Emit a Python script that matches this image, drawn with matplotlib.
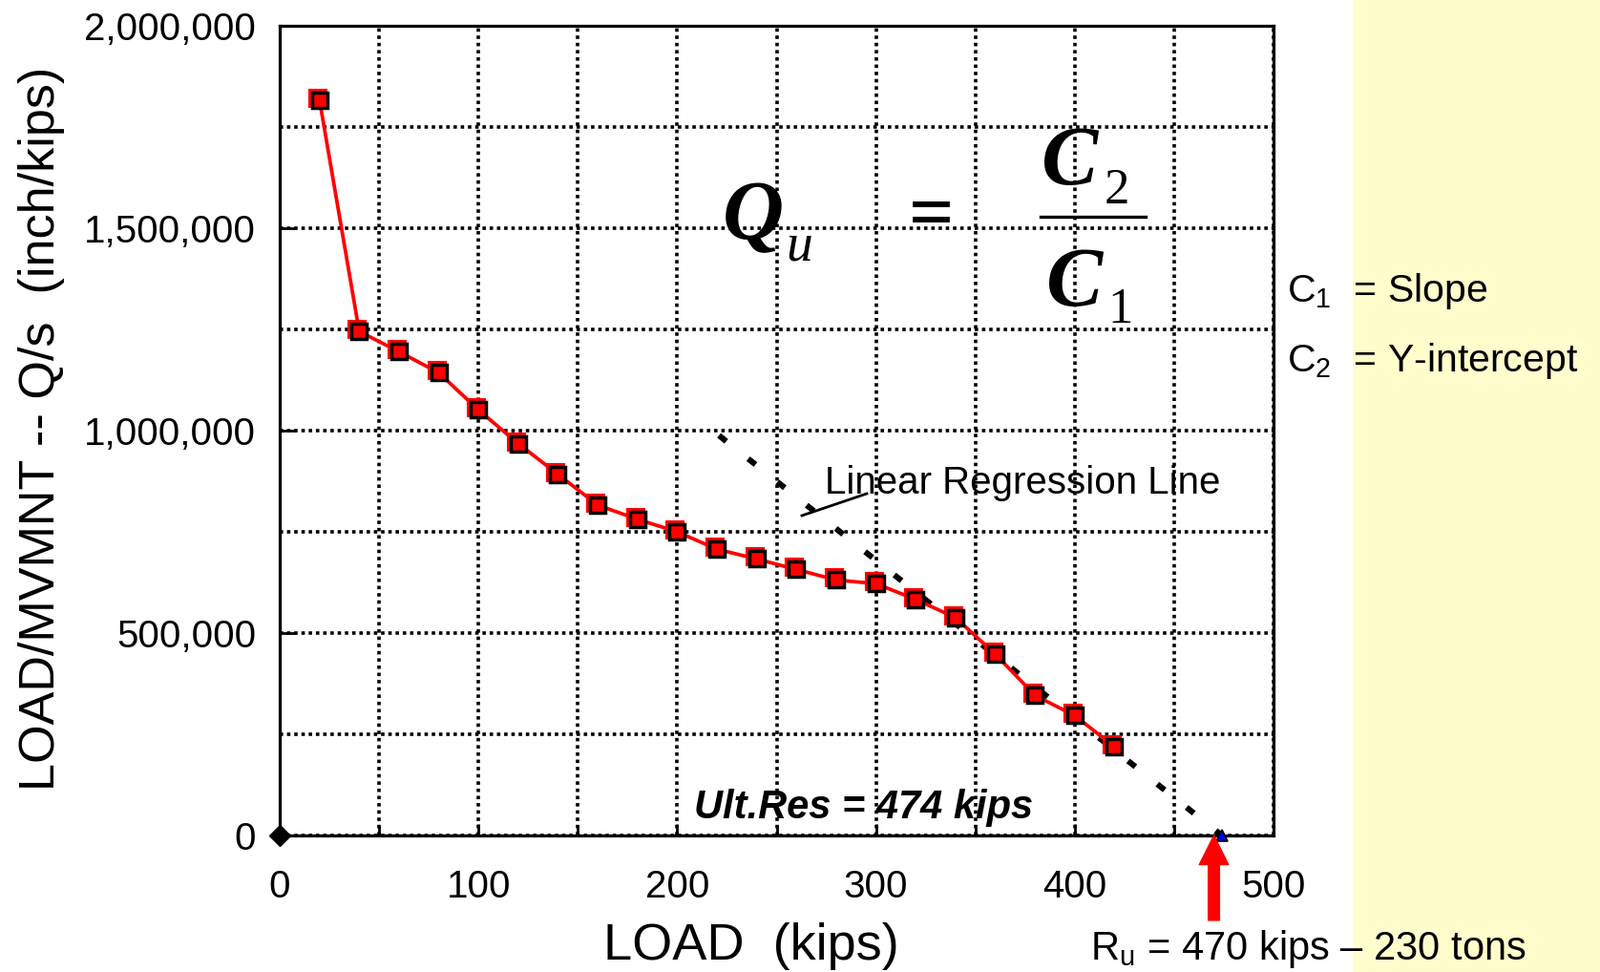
import matplotlib
matplotlib.use("Agg")
import matplotlib.pyplot as plt
from matplotlib.lines import Line2D
from matplotlib.patches import Rectangle
import matplotlib.transforms as mtransforms

# ---------------- data ----------------
load_kips = [20, 40, 60, 80, 100, 120, 140, 160, 180, 200, 220,
             240, 260, 280, 300, 320, 340, 360, 380, 400, 420]
q_over_s = [1817000, 1245000, 1195000, 1143000, 1051000, 968000, 892000,
            816000, 781000, 750000, 707000, 683000, 657000, 631000,
            622000, 583000, 538000, 448000, 346000, 296000, 219000]
reg_load = [221, 474]
reg_qs = [988000, 0]
origin_load = [0]
origin_qs = [0]
ult_load = [474]
ult_qs = [0]
ru_load = 470
x_ticks = [0, 100, 200, 300, 400, 500]
x_minor = [50, 150, 250, 350, 450]
y_ticks = [0, 500000, 1000000, 1500000, 2000000]
y_tick_labels = ["0", "500,000", "1,000,000", "1,500,000", "2,000,000"]
y_minor = [250000, 750000, 1250000, 1750000]

W, H = 1676, 1018
plt.rcParams['font.family'] = ['Liberation Sans', 'DejaVu Sans']
plt.rcParams['mathtext.fontset'] = 'custom'
plt.rcParams['mathtext.rm'] = 'Liberation Sans'
plt.rcParams['mathtext.it'] = 'Liberation Sans:italic'

fig = plt.figure(figsize=(W / 100, H / 100), dpi=100)
fig.patch.set_facecolor('white')

def fx(px):
    return px / W

def fy(py):
    return 1 - py / H

# yellow side panel
fig.add_artist(Rectangle((fx(1417), 0), 1 - fx(1417), 1, transform=fig.transFigure,
                         facecolor='#FFFDCB', edgecolor='none', zorder=-10))

ax = fig.add_axes([fx(293), fy(875), fx(1334) - fx(293), (875 - 27) / H])
ax.set_xlim(0, 500)
ax.set_ylim(0, 2000000)

for s in ax.spines.values():
    s.set_linewidth(2.3)
    s.set_color('black')

ax.set_xticks(x_ticks)
ax.set_xticks(x_minor, minor=True)
ax.set_xticklabels([str(v) for v in x_ticks])
ax.set_yticks(y_ticks)
ax.set_yticks(y_minor, minor=True)
ax.set_yticklabels(y_tick_labels)
ax.tick_params(axis='x', which='major', direction='in', length=9, width=2,
               labelsize=29, pad=25)
ax.tick_params(axis='x', which='minor', direction='in', length=8, width=2)
ax.tick_params(axis='y', which='major', direction='in', length=12, width=2,
               labelsize=29, pad=18)
ax.tick_params(axis='y', which='minor', length=0)
ax.grid(True, which='both', color='black', linestyle=(0, (1, 1.1)), linewidth=2.6)
ax.set_axisbelow(True)

# regression line
ax.plot(reg_load, reg_qs, color='black', linewidth=4.4,
        linestyle=(0, (1.6, 4.8)), zorder=3)

# red shadow squares
shadow = mtransforms.offset_copy(ax.transData, fig=fig, x=-2, y=2, units='dots')
ax.plot(load_kips, q_over_s, linestyle='none', marker='s', markersize=13,
        markerfacecolor='red', markeredgecolor='red', markeredgewidth=1.5,
        transform=shadow, zorder=4, clip_on=False)
# data curve
ax.plot(load_kips, q_over_s, color='red', linewidth=2.7, marker='s',
        markersize=12, markerfacecolor='red', markeredgecolor='black',
        markeredgewidth=2.5, zorder=5, clip_on=False)

# origin point and ultimate point
ax.plot(origin_load, origin_qs, linestyle='none', marker='D', markersize=11,
        color='black', zorder=6, clip_on=False)
ax.plot(ult_load, ult_qs, linestyle='none', marker='^', markersize=9,
        markerfacecolor='blue', markeredgecolor='black', markeredgewidth=1.2,
        zorder=6, clip_on=False)

# red arrow for Ru
ax.annotate('', xy=(ru_load, 0), xycoords='data',
            xytext=(0, -64), textcoords='offset points',
            arrowprops=dict(arrowstyle='simple,head_length=1.1,head_width=1.1,tail_width=0.42',
                            mutation_scale=20, color='red', shrinkA=0, shrinkB=0),
            annotation_clip=False, zorder=7)

# axis labels
fig.text(fx(44), fy(449), "LOAD/MVMNT -- Q/s  (inch/kips)", rotation=90,
         ha='center', va='center', fontsize=37.5)
fig.text(fx(787), fy(1005), "LOAD  (kips)", ha='center', va='baseline', fontsize=39)

# annotations inside plot
fig.text(fx(864), fy(517), "Linear Regression Line", ha='left', va='baseline', fontsize=29)
fig.add_artist(Line2D([fx(908), fx(840)], [fy(517), fy(540)], transform=fig.transFigure,
                      color='black', linewidth=2))
fig.text(fx(905), fy(857), "Ult.Res = 474 kips", ha='center', va='baseline',
         fontsize=30, fontweight='bold', fontstyle='italic')

# formula Qu = C2 / C1
serif = ['Liberation Serif', 'DejaVu Serif']
fig.text(fx(757), fy(250), "Q", family=serif, fontsize=64, fontweight='bold',
         fontstyle='italic', ha='left', va='baseline')
fig.text(fx(823), fy(272), "u", family=serif, fontsize=40, fontstyle='italic',
         ha='left', va='baseline')
fig.text(fx(976), fy(249), "=", family=serif, fontsize=60, fontweight='bold',
         ha='center', va='baseline')
fig.add_artist(Line2D([fx(1090), fx(1200)], [fy(227), fy(227)], transform=fig.transFigure,
                      color='black', linewidth=2.4))
fig.text(fx(1091), fy(193), "C", family=serif, fontsize=64, fontweight='bold',
         fontstyle='italic', ha='left', va='baseline')
fig.text(fx(1157), fy(213), "2", family=serif, fontsize=38, ha='left', va='baseline')
fig.text(fx(1096), fy(320), "C", family=serif, fontsize=64, fontweight='bold',
         fontstyle='italic', ha='left', va='baseline')
fig.text(fx(1160), fy(338), "1", family=serif, fontsize=38, ha='left', va='baseline')

# right-side definitions
fig.text(fx(1348), fy(316), r"C$_\mathrm{1}$  = Slope", ha='left', va='baseline', fontsize=29.5)
fig.text(fx(1348), fy(389), r"C$_\mathrm{2}$  = Y-intercept", ha='left', va='baseline', fontsize=29.5)

# Ru text
fig.text(fx(1142), fy(1005), r"R$_\mathrm{u}$ = 470 kips – 230 tons", ha='left',
         va='baseline', fontsize=30)

fig.savefig("out.png", dpi=100, facecolor=fig.get_facecolor())
